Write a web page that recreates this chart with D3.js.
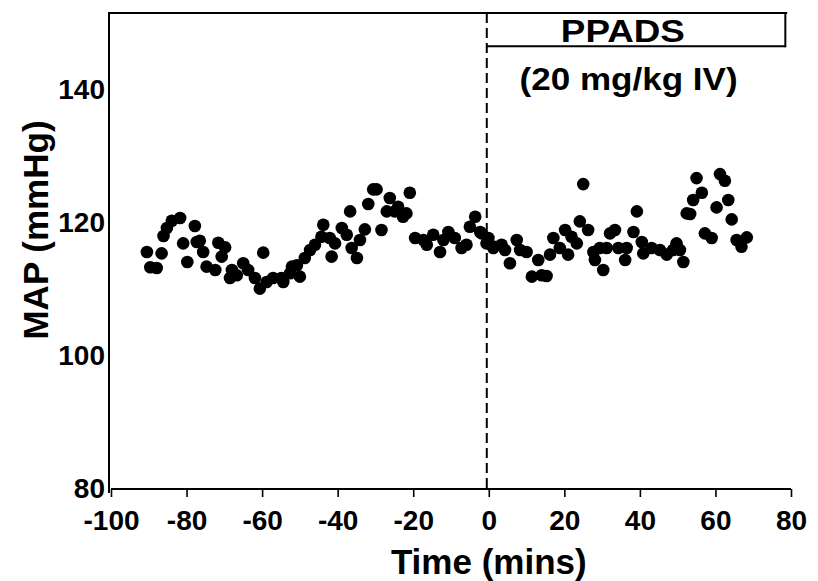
<!DOCTYPE html>
<html>
<head>
<meta charset="utf-8">
<script src="https://cdn.jsdelivr.net/npm/d3@7"></script>
<style>
  html, body { margin: 0; padding: 0; background: #fff; }
  svg { display: block; }
  text { font-family: "Liberation Sans", Arial, Helvetica, sans-serif; font-weight: bold; fill: #000; }
</style>
</head>
<body>
<svg id="chart" width="818" height="581"></svg>
<script>
// ---- Data (time in minutes, MAP in mmHg) ----
const timeMins = [
  -90.5, -86.6, -89.6, -87.9, -86.1, -85.2, -83.9, -81.7, -77.8, -80.9,
  -79.8, -77.3, -76.5, -75.6, -74.7, -72.4, -71.6, -69.8, -70.7, -68.0,
  -68.5, -66.7, -65.0, -63.7, -61.9, -60.6, -59.7, -58.8, -57.1, -54.9,
  -52.6, -50.8,
  -54.4, -52.1, -50.0, -48.7, -47.3, -46.0, -44.3, -43.8, -42.1, -41.6,
  -40.7, -38.9, -37.6, -36.7, -36.3, -34.9, -34.1, -32.8, -31.9, -30.6,
  -29.7, -28.4, -27.0, -26.2, -24.9, -24.0, -22.7, -21.8, -20.9, -19.5,
  -17.3, -16.4, -14.7, -12.9, -12.0, -10.7, -9.0, -7.2, -5.9, -5.0,
  -3.6, -2.3, -0.1, 1.2,
  -1.9, -0.6, 1.2, 3.4, 4.3, 5.6, 7.4, 8.3, 10.0, 11.4,
  13.1, 14.0, 15.3, 16.2, 17.1, 18.8, 20.2, 21.0, 21.9, 23.3,
  24.1, 25.0, 26.3, 27.7, 28.1, 29.4, 30.3, 31.2, 32.1, 33.4,
  34.3, 36.1, 36.5, 38.3, 39.2, 40.5, 40.9, 43.1, 45.3, 47.1,
  48.8, 49.7, 50.6, 51.5, 52.4, 53.3, 54.1, 55.0, 56.4, 57.2,
  59.0, 60.3, 61.2, 62.5, 63.4, 64.3, 65.6, 66.9, 68.3
];
const mapValues = [
  115.6, 115.4, 113.3, 113.2, 118.0, 119.2, 120.3, 120.7, 119.5, 116.9,
  114.1, 117.1, 117.3, 115.6, 113.4, 112.9, 117.0, 116.3, 114.9, 112.9,
  111.7, 112.1, 113.9, 112.9, 111.7, 110.1, 115.5, 111.1, 111.7, 111.7,
  112.4, 113.6,
  111.1, 113.4, 111.9, 114.7, 115.9, 116.7, 117.9, 119.7, 117.7, 114.9,
  116.9, 119.2, 118.2, 121.7, 116.2, 114.7, 117.4, 119.0, 122.8, 125.0,
  125.0, 118.9, 121.7, 123.7, 121.7, 122.4, 120.9, 121.4, 124.5, 117.7,
  117.4, 116.7, 118.2, 115.6, 117.4, 118.6, 117.7, 116.2, 116.7, 119.4,
  120.9, 118.6, 117.7, 116.4,
  118.4, 116.9, 116.2, 116.7, 115.9, 113.9, 117.4, 115.9, 115.6, 111.9,
  114.4, 112.1, 112.0, 115.2, 117.7, 116.2, 118.9, 115.2, 117.9, 116.9,
  120.2, 125.8, 118.9, 115.6, 114.4, 116.2, 112.9, 116.2, 118.4, 118.9,
  116.2, 114.4, 116.2, 118.6, 121.7, 117.1, 115.4, 116.2, 115.9, 115.2,
  115.9, 116.9, 115.9, 114.1, 121.4, 121.3, 123.4, 126.7, 124.5, 118.4,
  117.7, 122.3, 127.3, 126.3, 123.4, 120.5, 117.4, 116.4, 117.8
];
const xTicks = [-100, -80, -60, -40, -20, 0, 20, 40, 60, 80];
const yTicks = [80, 100, 120, 140];
const xTitle = "Time (mins)";
const yTitle = "MAP (mmHg)";
const drugLabel = "PPADS";
const doseLabel = "(20 mg/kg IV)";
const drugStart = 0;

// ---- Scales ----
const svg = d3.select("#chart");
const x = d3.scaleLinear().domain([-100, 80]).range([111, 791]);
const y = d3.scaleLinear().domain([80, 151.5]).range([489, 13]);
const yTop = y.domain()[1];
const fmt = d => String(d);   // plain hyphen-minus like the original

// Top border line
svg.append("line")
  .attr("x1", x(-100) - 3).attr("x2", x(79))
  .attr("y1", y(yTop)).attr("y2", y(yTop))
  .attr("stroke", "#000").attr("stroke-width", 2);

// X axis
const xAxis = svg.append("g")
  .attr("transform", `translate(0,${y(80)})`)
  .call(d3.axisBottom(x).tickValues(xTicks).tickSize(8).tickPadding(13).tickFormat(fmt));
xAxis.select(".domain").attr("stroke-width", 2).attr("d", `M${x(-100)},0H${x(80)}`);
xAxis.selectAll(".tick line").attr("stroke-width", 1.6);
xAxis.selectAll(".tick text")
  .style("font-size", "28px").attr("fill", "#000");

// Y axis
const yAxis = svg.append("g")
  .attr("transform", `translate(${x(-100) - 2},0)`)
  .call(d3.axisLeft(y).tickValues(yTicks).tickSize(0).tickPadding(4).tickFormat(fmt));
yAxis.select(".domain").attr("stroke-width", 2).attr("d", `M0,${y(yTop)}V${y(80) + 4}`);
yAxis.selectAll(".tick text")
  .style("font-size", "28px").attr("fill", "#000");

// Dashed drug-start line
svg.append("line")
  .attr("x1", x(drugStart) - 2).attr("x2", x(drugStart) - 2)
  .attr("y1", y(yTop)).attr("y2", y(80))
  .attr("stroke", "#000").attr("stroke-width", 2)
  .attr("stroke-dasharray", "10,5");

// Drug box
const boxBottom = y(146.5);
svg.append("line")
  .attr("x1", x(drugStart) - 2).attr("x2", x(78.5))
  .attr("y1", boxBottom).attr("y2", boxBottom)
  .attr("stroke", "#000").attr("stroke-width", 2);
svg.append("line")
  .attr("x1", x(78.5)).attr("x2", x(78.5))
  .attr("y1", y(yTop) - 1).attr("y2", boxBottom + 1)
  .attr("stroke", "#000").attr("stroke-width", 2);

svg.append("text")
  .attr("x", x(35.5)).attr("y", 42)
  .attr("text-anchor", "middle")
  .attr("textLength", 124).attr("lengthAdjust", "spacingAndGlyphs")
  .style("font-size", "32px")
  .text(drugLabel);
svg.append("text")
  .attr("x", x(37)).attr("y", 90)
  .attr("text-anchor", "middle")
  .attr("textLength", 218).attr("lengthAdjust", "spacingAndGlyphs")
  .style("font-size", "32px")
  .text(doseLabel);

// Points
const points = timeMins.map((t, i) => ({ t, v: mapValues[i] }));
svg.append("g")
  .selectAll("circle")
  .data(points)
  .join("circle")
  .attr("cx", d => x(d.t))
  .attr("cy", d => y(d.v))
  .attr("r", 6.3)
  .attr("fill", "#000");

// Axis titles
svg.append("text")
  .attr("x", x(0)).attr("y", 574)
  .attr("text-anchor", "middle")
  .style("font-size", "35px")
  .text(xTitle);
svg.append("text")
  .attr("transform", `translate(48,${230}) rotate(-90)`)
  .attr("text-anchor", "middle")
  .style("font-size", "35px")
  .text(yTitle);
</script>
</body>
</html>
